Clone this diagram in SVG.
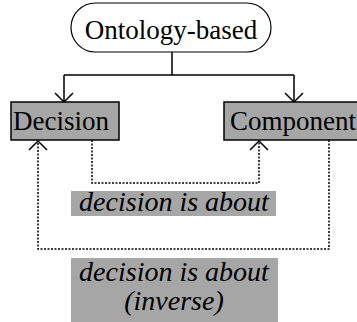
<svg xmlns="http://www.w3.org/2000/svg" width="357" height="322" viewBox="0 0 357 322">
<style>
.t{font-family:"Liberation Serif","Times New Roman",serif;font-size:27px;fill:#000}
.i{font-family:"Liberation Serif","Times New Roman",serif;font-size:28px;font-style:italic;fill:#000}
.box{fill:#a6a6a6;stroke:#000;stroke-width:1.5}
.lbl{fill:#a6a6a6}
.solid{fill:none;stroke:#000;stroke-width:1.5}
.dot{fill:none;stroke:#000;stroke-width:1.5;stroke-dasharray:2 1.5}
.ah{fill:none;stroke:#000;stroke-width:1.5}
</style>
<rect width="357" height="322" fill="#fff"/>
<g id="connectors">
<path class="solid" d="M172 52V75M64 75H294M64 75V102M294 75V102"/>
<path class="ah" d="M55 93L64 102L73 93M285 93L294 102L303 93"/>
<path class="dot" d="M92 140V183H259V141"/>
<path class="ah" d="M250 150L259 141L268 150"/>
<path class="dot" d="M329 140V249H38V141"/>
<path class="ah" d="M29 150L38 141L47 150"/>
</g>
<g id="ontology">
<rect x="71" y="3" width="200" height="49" rx="24.5" fill="#fff" stroke="#000" stroke-width="1.2"/>
<text class="t" x="171" y="39" text-anchor="middle">Ontology-based</text>
</g>
<g id="decision">
<rect class="box" x="11" y="102" width="108" height="38"/>
<text class="t" x="13" y="130">Decision</text>
</g>
<g id="component">
<rect class="box" x="224" y="102" width="140" height="38"/>
<text class="t" x="230" y="130">Component</text>
</g>
<g id="label1">
<rect class="lbl" x="71" y="191" width="205" height="25"/>
<text class="i" x="174" y="211" text-anchor="middle">decision is about</text>
</g>
<g id="label2">
<rect class="lbl" x="71" y="258" width="207" height="64"/>
<text class="i" x="174" y="281" text-anchor="middle">decision is about</text>
<text class="i" x="174" y="310" text-anchor="middle">(inverse)</text>
</g>
</svg>
